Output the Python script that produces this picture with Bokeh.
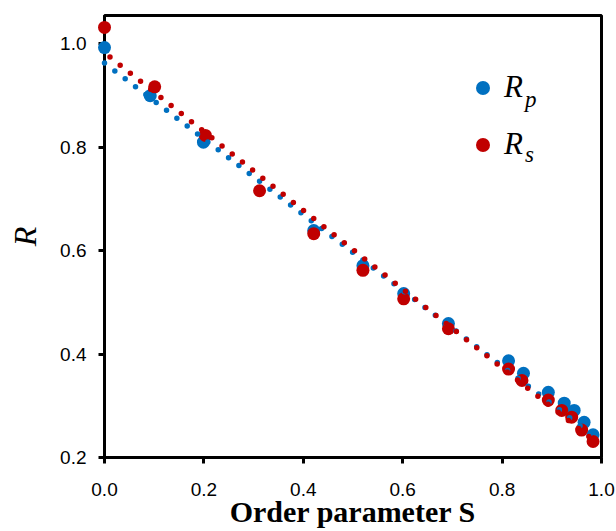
import numpy as np
from bokeh.plotting import figure
from bokeh.models import Range1d, FixedTicker, Label, Legend, LegendItem, NumeralTickFormatter
from bokeh.embed import file_html
from bokeh.resources import INLINE

# Data
s_p = [0.0, 0.092, 0.199, 0.421, 0.520, 0.602, 0.692, 0.813, 0.843, 0.893, 0.925, 0.945, 0.965, 0.983]
r_p = [0.993, 0.900, 0.810, 0.639, 0.571, 0.517, 0.459, 0.387, 0.363, 0.326, 0.305, 0.291, 0.268, 0.244]
s_s = [0.0, 0.101, 0.203, 0.312, 0.421, 0.520, 0.602, 0.692, 0.813, 0.840, 0.893, 0.920, 0.940, 0.960, 0.983]
r_s = [1.032, 0.917, 0.823, 0.716, 0.633, 0.562, 0.507, 0.449, 0.371, 0.349, 0.311, 0.291, 0.278, 0.253, 0.231]

# linear trend lines (intercept, slope)
trend_p = [0.963, -0.733]
trend_s = [0.983, -0.762]

x_ticks = [0.0, 0.2, 0.4, 0.6, 0.8, 1.0]
y_ticks = [0.2, 0.4, 0.6, 0.8, 1.0]

BLUE = "#0070C0"
RED = "#C00000"

p = figure(width=616, height=531,
           x_range=Range1d(0, 1.0), y_range=Range1d(0.2, 1.055),
           output_backend="svg", toolbar_location=None,
           min_border_left=104, min_border_top=15, min_border_right=15, min_border_bottom=74)
p.background_fill_color = "white"
p.border_fill_color = "white"
p.grid.visible = False
p.outline_line_color = "black"
p.outline_line_width = 3

for ax in (p.xaxis, p.yaxis):
    ax.axis_line_width = 3
    ax.axis_line_color = "black"
    ax.major_tick_line_width = 3
    ax.major_tick_out = 6
    ax.major_tick_in = 0
    ax.minor_tick_line_color = None
    ax.major_label_text_font = "Liberation Sans"
    ax.major_label_text_font_size = "19px"
    ax.major_label_text_color = "black"
    ax.formatter = NumeralTickFormatter(format="0.0")

p.xaxis.ticker = FixedTicker(ticks=x_ticks)
p.yaxis.ticker = FixedTicker(ticks=y_ticks)
p.xaxis.major_label_standoff = 19
p.yaxis.major_label_standoff = 12

p.xaxis.axis_label = "Order parameter S"
p.xaxis.axis_label_text_font = "Liberation Serif"
p.xaxis.axis_label_text_font_style = "bold"
p.xaxis.axis_label_text_font_size = "30px"
p.xaxis.axis_label_text_color = "black"
p.xaxis.axis_label_standoff = -4

p.yaxis.axis_label = "R"
p.yaxis.axis_label_text_font = "Liberation Serif"
p.yaxis.axis_label_text_font_style = "italic"
p.yaxis.axis_label_text_font_size = "32px"
p.yaxis.axis_label_text_color = "black"
p.yaxis.axis_label_standoff = 14

rp = p.scatter(s_p, r_p, size=13, color=BLUE, line_color=None, level="overlay")
rs = p.scatter(s_s, r_s, size=13, color=RED, line_color=None, level="overlay")

xp = np.array([min(s_p), max(s_p)])
xs = np.array([min(s_s), max(s_s)])
p.line(xp, trend_p[0] + trend_p[1] * xp, line_color=BLUE, line_width=5.5,
       line_cap="round", line_dash="0 13", level="overlay")
p.line(xs, trend_s[0] + trend_s[1] * xs, line_color=RED, line_width=5.5,
       line_cap="round", line_dash="0 13", line_dash_offset=6, level="overlay")

legend = Legend(items=[LegendItem(label="R", renderers=[rp]),
                       LegendItem(label="R", renderers=[rs])],
                location=(361, 295), orientation="vertical",
                glyph_width=35, glyph_height=35, label_height=35, spacing=21,
                padding=0, margin=0, label_standoff=4,
                border_line_color=None, background_fill_alpha=0,
                label_text_font="Liberation Serif", label_text_font_style="italic",
                label_text_font_size="31px", label_text_color="black")
p.add_layout(legend, "center")

p.add_layout(Label(x=0.846, y=0.893, text="p", text_font="Liberation Serif",
                   text_font_style="italic", text_font_size="23px", text_color="black",
                   text_baseline="alphabetic"))
p.add_layout(Label(x=0.846, y=0.786, text="s", text_font="Liberation Serif",
                   text_font_style="italic", text_font_size="23px", text_color="black",
                   text_baseline="alphabetic"))

open("out.html", "w").write(file_html(p, INLINE))
